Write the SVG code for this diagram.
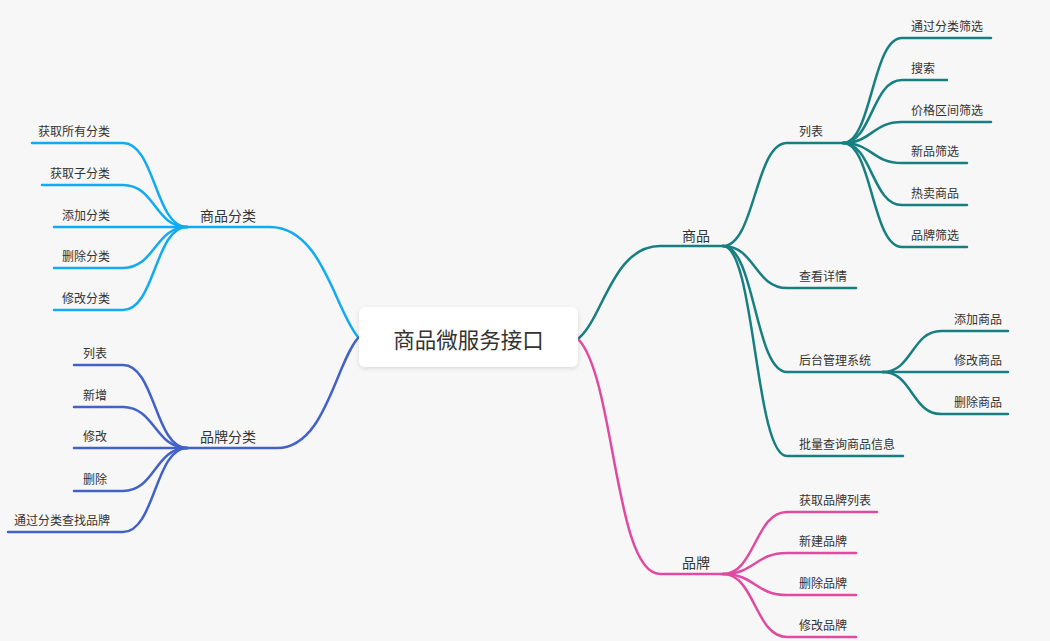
<svg xmlns="http://www.w3.org/2000/svg" width="1050" height="641" viewBox="0 0 1050 641">
<defs>
<filter id="sh" x="-10%" y="-20%" width="120%" height="150%">
<feDropShadow dx="0" dy="1.5" stdDeviation="2" flood-color="#000" flood-opacity="0.12"/>
</filter>
<style>
text{font-family:"Noto Sans CJK SC","Noto Sans",sans-serif;fill:#333;}
.leaf{font-size:12px;}
.br{font-size:14px;}
.root{font-size:21.5px;}
.l{fill:none;stroke-width:2.5;stroke-linecap:round;}
.blue{stroke:#12aaf0;}
.ind{stroke:#4262c8;}
.teal{stroke:#177f80;}
.pink{stroke:#e04aa0;}
.end{text-anchor:end;}
</style>
</defs>
<rect width="1050" height="641" fill="#f7f7f7"/>
<g id="connectors">
<path class="l blue" d="M358,337 C335,310 322,227 270,227 L187,227"/>
<path class="l blue" d="M187,227 C155,227 155,143 123,143 L32,143"/>
<path class="l blue" d="M187,227 C155,227 155,185 123,185 L42,185"/>
<path class="l blue" d="M187,227 L54,227"/>
<path class="l blue" d="M187,227 C155,227 155,268 123,268 L54,268"/>
<path class="l blue" d="M187,227 C155,227 155,310 123,310 L54,310"/>
<path class="l ind" d="M358,338 C335,365 325,448 277,448 L187,448"/>
<path class="l ind" d="M187,448 C155,448 155,365 123,365 L74,365"/>
<path class="l ind" d="M187,448 C155,448 155,407 123,407 L74,407"/>
<path class="l ind" d="M187,448 L74,448"/>
<path class="l ind" d="M187,448 C155,448 155,491 123,491 L74,491"/>
<path class="l ind" d="M187,448 C155,448 155,532 123,532 L8,532"/>
<path class="l teal" d="M579,338 C603,318 613,246 660,246 L723,246"/>
<path class="l teal" d="M723,246 C755,246 755,143 787,143 L843,143"/>
<path class="l teal" d="M843,143 C872,143 872,38 902,38 L991,38"/>
<path class="l teal" d="M843,143 C872,143 872,80 902,80 L947,80"/>
<path class="l teal" d="M843,143 C872,143 872,122 902,122 L991,122"/>
<path class="l teal" d="M843,143 C872,143 872,163 902,163 L967,163"/>
<path class="l teal" d="M843,143 C872,143 872,205 902,205 L967,205"/>
<path class="l teal" d="M843,143 C872,143 872,247 902,247 L967,247"/>
<path class="l teal" d="M723,246 C755,246 755,288 787,288 L856,288"/>
<path class="l teal" d="M723,246 C755,246 755,372 787,372 L883,372"/>
<path class="l teal" d="M883,372 C912,372 912,331 941,331 L1008,331"/>
<path class="l teal" d="M883,372 L1008,372"/>
<path class="l teal" d="M883,372 C912,372 912,414 941,414 L1008,414"/>
<path class="l teal" d="M723,246 C755,246 755,456 787,456 L903,456"/>
<path class="l pink" d="M579,340 C615,380 615,574 660,574 L723,574"/>
<path class="l pink" d="M723,574 C755,574 755,512 787,512 L877,512"/>
<path class="l pink" d="M723,574 C755,574 755,553 787,553 L856,553"/>
<path class="l pink" d="M723,574 C755,574 755,595 787,595 L856,595"/>
<path class="l pink" d="M723,574 C755,574 755,637 787,637 L856,637"/>
</g>
<g id="root">
<rect x="359" y="307" width="219" height="60" rx="6" fill="#fff" filter="url(#sh)"/>
<text class="root" x="468.5" y="348" text-anchor="middle">商品微服务接口</text>
</g>
<g id="n-spfl"><text class="br" x="200" y="221">商品分类</text></g>
<g id="n-hqsyfl"><text class="leaf end" x="110" y="136">获取所有分类</text></g>
<g id="n-hqzfl"><text class="leaf end" x="110" y="178">获取子分类</text></g>
<g id="n-tjfl"><text class="leaf end" x="110" y="220">添加分类</text></g>
<g id="n-scfl"><text class="leaf end" x="110" y="261">删除分类</text></g>
<g id="n-xgfl"><text class="leaf end" x="110" y="303">修改分类</text></g>
<g id="n-ppfl"><text class="br" x="200" y="442">品牌分类</text></g>
<g id="n-pp-lb"><text class="leaf end" x="107" y="358">列表</text></g>
<g id="n-pp-xz"><text class="leaf end" x="107" y="400">新增</text></g>
<g id="n-pp-xg"><text class="leaf end" x="107" y="441">修改</text></g>
<g id="n-pp-sc"><text class="leaf end" x="107" y="484">删除</text></g>
<g id="n-pp-tgfl"><text class="leaf end" x="110" y="525">通过分类查找品牌</text></g>
<g id="n-sp"><text class="br" x="682" y="241">商品</text></g>
<g id="n-sp-lb"><text class="leaf" x="799" y="136">列表</text></g>
<g id="n-tgflsx"><text class="leaf" x="911" y="31">通过分类筛选</text></g>
<g id="n-ss"><text class="leaf" x="911" y="73">搜索</text></g>
<g id="n-jgqjsx"><text class="leaf" x="911" y="115">价格区间筛选</text></g>
<g id="n-xpsx"><text class="leaf" x="911" y="156">新品筛选</text></g>
<g id="n-rmsp"><text class="leaf" x="911" y="198">热卖商品</text></g>
<g id="n-ppsx"><text class="leaf" x="911" y="240">品牌筛选</text></g>
<g id="n-ckxq"><text class="leaf" x="799" y="281">查看详情</text></g>
<g id="n-htgl"><text class="leaf" x="799" y="365">后台管理系统</text></g>
<g id="n-tjsp"><text class="leaf" x="954" y="324">添加商品</text></g>
<g id="n-xgsp"><text class="leaf" x="954" y="365">修改商品</text></g>
<g id="n-scsp"><text class="leaf" x="954" y="407">删除商品</text></g>
<g id="n-plcx"><text class="leaf" x="799" y="449">批量查询商品信息</text></g>
<g id="n-pp"><text class="br" x="682" y="568">品牌</text></g>
<g id="n-hqpplb"><text class="leaf" x="799" y="505">获取品牌列表</text></g>
<g id="n-xjpp"><text class="leaf" x="799" y="546">新建品牌</text></g>
<g id="n-scpp"><text class="leaf" x="799" y="588">删除品牌</text></g>
<g id="n-xgpp"><text class="leaf" x="799" y="630">修改品牌</text></g>
</svg>
